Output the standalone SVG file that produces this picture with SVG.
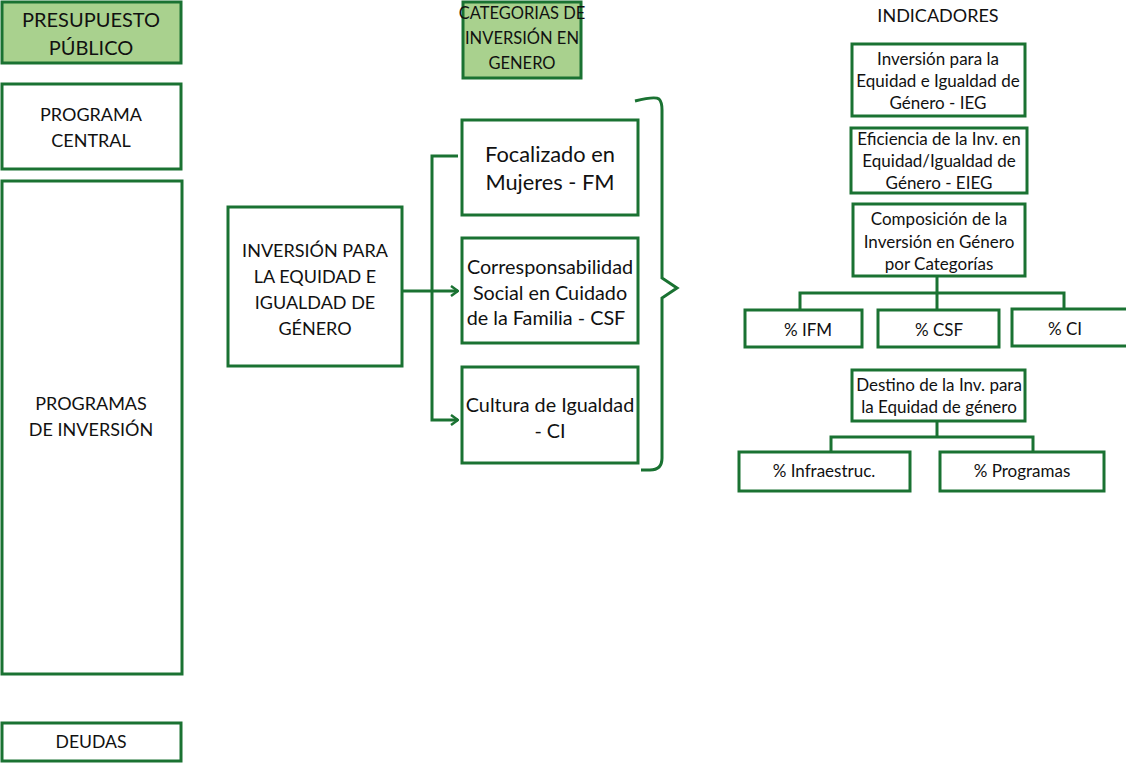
<svg xmlns="http://www.w3.org/2000/svg" width="1126" height="763" viewBox="0 0 1126 763">
<defs>
<style>
.b{fill:#fff;stroke:#1a7232;stroke-width:3}
.g{fill:#a9d18e;stroke:#1a7232;stroke-width:3}
.c{fill:none;stroke:#1a7232;stroke-width:3}
text{font-family:Lato,"Open Sans","Liberation Sans",sans-serif;fill:#111;text-anchor:middle}
.t18{font-size:18px}
.t16{font-size:16.5px}
.t20{font-size:20px}
.tl{font-size:19.8px}
.tf{font-size:21.8px}
.t15{font-size:17px}
.td{font-size:17.6px}
.th{font-size:18px}
</style>
<marker id="ar" viewBox="0 0 10 12" refX="9" refY="6" markerWidth="10" markerHeight="12" markerUnits="userSpaceOnUse" orient="auto">
<path d="M2,1 L9,6 L2,11" fill="none" stroke="#1a7232" stroke-width="2.5"/>
</marker>
</defs>
<rect width="1126" height="763" fill="#fff"/>

<g id="presupuesto">
<rect class="g" x="2" y="2" width="179" height="61"/>
<text class="t20" x="91" y="27">PRESUPUESTO</text>
<text class="t20" x="91" y="55">PÚBLICO</text>
</g>
<g id="programa-central">
<rect class="b" x="2" y="84" width="179" height="85"/>
<text class="t18" x="91" y="121">PROGRAMA</text>
<text class="t18" x="91" y="147">CENTRAL</text>
</g>
<g id="programas-inversion">
<rect class="b" x="2" y="181" width="180" height="493"/>
<text class="t18" x="91" y="410">PROGRAMAS</text>
<text class="t18" x="91" y="436">DE INVERSIÓN</text>
</g>
<g id="deudas">
<rect class="b" x="2" y="723" width="179" height="38"/>
<text class="td" x="91" y="748">DEUDAS</text>
</g>

<g id="categorias">
<rect class="g" x="463" y="2" width="118" height="76"/>
<text class="t16" x="522" y="19">CATEGORIAS DE</text>
<text class="t16" x="522" y="44">INVERSIÓN EN</text>
<text class="t16" x="522" y="69">GENERO</text>
</g>

<g id="inversion-equidad">
<rect class="b" x="228" y="207" width="174" height="159"/>
<text class="t18" x="315" y="257">INVERSIÓN PARA</text>
<text class="t18" x="315" y="283">LA EQUIDAD E</text>
<text class="t18" x="315" y="309">IGUALDAD DE</text>
<text class="t18" x="315" y="335">GÉNERO</text>
</g>

<g id="fm">
<rect class="b" x="462" y="120" width="176" height="95"/>
<text class="tf" x="550" y="162">Focalizado en</text>
<text class="tf" x="550" y="190">Mujeres - FM</text>
</g>
<g id="csf">
<rect class="b" x="462" y="238" width="176" height="105"/>
<text class="tl" x="550" y="274">Corresponsabilidad</text>
<text class="tl" x="550" y="300">Social en Cuidado</text>
<text class="tl" x="546" y="325">de la Familia - CSF</text>
</g>
<g id="ci">
<rect class="b" x="462" y="367" width="176" height="96"/>
<text class="tl" x="550" y="412">Cultura de Igualdad</text>
<text class="tl" x="550" y="438">- CI</text>
</g>

<g id="brace">
<path class="c" d="M635,101 Q655,96 659,99 Q662,102 662,110 L662,278 L677,288 L662,298 L662,458 Q662,470 650,470 L641,470"/>
</g>

<g id="connectors">
<path class="c" d="M402,291 L458,291" marker-end="url(#ar)"/>
<path class="c" d="M458,156 L432,156 L432,420 L458,420" marker-end="url(#ar)"/>
<path class="c" d="M937,276 L937,310 M800,310 L800,293 L1064,293 L1064,310"/>
<path class="c" d="M937,421 L937,437 M831,452 L831,437 L1033,437 L1033,452"/>
</g>

<g id="indicadores">
<text class="th" x="938" y="22">INDICADORES</text>
</g>
<g id="ieg">
<rect class="b" x="852" y="44" width="173" height="72"/>
<text class="t15" x="938" y="65">Inversión para la</text>
<text class="t15" x="938" y="87">Equidad e Igualdad de</text>
<text class="t15" x="938" y="109">Género - IEG</text>
</g>
<g id="eieg">
<rect class="b" x="851" y="128" width="176" height="65"/>
<text class="t15" x="939" y="145">Eficiencia de la Inv. en</text>
<text class="t15" x="939" y="167">Equidad/Igualdad de</text>
<text class="t15" x="939" y="189">Género - EIEG</text>
</g>
<g id="composicion">
<rect class="b" x="853" y="204" width="172" height="72"/>
<text class="t15" x="939" y="225">Composición de la</text>
<text class="t15" x="939" y="248">Inversión en Género</text>
<text class="t15" x="939" y="270">por Categorías</text>
</g>
<g id="ifm">
<rect class="b" x="745" y="310" width="117" height="37"/>
<text class="t15" x="808" y="336">% IFM</text>
</g>
<g id="pcsf">
<rect class="b" x="878" y="310" width="121" height="37"/>
<text class="t15" x="939" y="336">% CSF</text>
</g>
<g id="pci">
<rect class="b" x="1012" y="309" width="116" height="37"/>
<text class="t15" x="1065" y="335">% CI</text>
</g>
<g id="destino">
<rect class="b" x="852" y="370" width="173" height="51"/>
<text class="t15" x="939" y="391">Destino de la Inv. para</text>
<text class="t15" x="939" y="413">la Equidad de género</text>
</g>
<g id="infra">
<rect class="b" x="739" y="452" width="171" height="39"/>
<text class="t15" x="824" y="477">% Infraestruc.</text>
</g>
<g id="programas">
<rect class="b" x="940" y="452" width="164" height="39"/>
<text class="t15" x="1022" y="477">% Programas</text>
</g>
</svg>
